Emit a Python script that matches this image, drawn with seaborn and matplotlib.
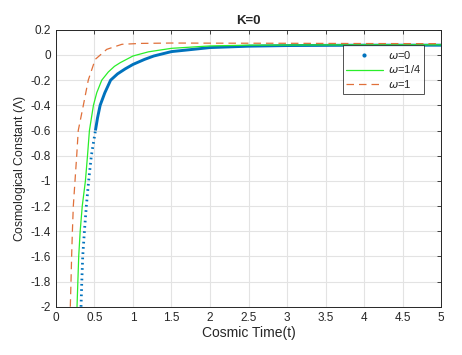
import matplotlib
matplotlib.use("Agg")
import matplotlib.pyplot as plt
import seaborn as sns
import pandas as pd
from matplotlib.lines import Line2D

# omega = 0
t0 = [0.326, 0.336, 0.348, 0.37, 0.395, 0.425, 0.46, 0.513, 0.54, 0.574, 0.635, 0.71,
      0.80, 0.9, 1.0, 1.15, 1.27, 1.5, 2.0, 2.5, 3.0, 4.0, 5.0]
lam0 = [-2.0, -1.8, -1.6, -1.4, -1.2, -1.0, -0.8, -0.6, -0.5, -0.4, -0.3, -0.2,
        -0.15, -0.11, -0.075, -0.035, -0.008, 0.027, 0.059, 0.07, 0.075, 0.078, 0.078]

# omega = 1/4
t1 = [0.274, 0.285, 0.296, 0.315, 0.342, 0.383, 0.41, 0.435, 0.487, 0.53, 0.595, 0.68,
      0.76, 0.835, 1.0, 1.2, 1.5, 2.0, 2.5, 3.5, 5.0]
lam1 = [-2.0, -1.8, -1.6, -1.4, -1.2, -1.0, -0.8, -0.6, -0.4, -0.3, -0.2, -0.135,
        -0.09, -0.061, -0.008, 0.025, 0.053, 0.072, 0.078, 0.08, 0.081]

# omega = 1
t2 = [0.187, 0.196, 0.204, 0.214, 0.226, 0.248, 0.27, 0.29, 0.356, 0.42, 0.51, 0.66,
      0.857, 1.1, 1.5, 2.0, 3.0, 4.0, 5.0]
lam2 = [-2.0, -1.8, -1.6, -1.4, -1.2, -1.0, -0.8, -0.6, -0.4, -0.2, -0.035, 0.045,
        0.085, 0.092, 0.095, 0.094, 0.093, 0.091, 0.09]

xticks = [0, 0.5, 1, 1.5, 2, 2.5, 3, 3.5, 4, 4.5, 5]
yticks = [0.2, 0, -0.2, -0.4, -0.6, -0.8, -1, -1.2, -1.4, -1.6, -1.8, -2]

sns.set_style("white")
plt.rcParams["font.family"] = ["Liberation Sans", "DejaVu Sans"]
plt.rcParams["axes.unicode_minus"] = False
plt.rcParams["mathtext.fontset"] = "dejavusans"

fig = plt.figure(figsize=(4.62, 3.55), dpi=100)
ax = fig.add_axes([0.121, 0.136, 0.834, 0.78])

blue = "#0072BD"
green = "#2AEE2A"
orange = "#E0703A"

d0 = pd.DataFrame({"t": t0, "lam": lam0})
steep = d0[d0["t"] <= 0.513]
flat = d0[d0["t"] >= 0.513]
sns.lineplot(data=steep, x="t", y="lam", ax=ax, color=blue, lw=2.0,
             linestyle=(0, (0.6, 1.3)), sort=False, estimator=None)
sns.lineplot(data=flat, x="t", y="lam", ax=ax, color=blue, lw=2.1,
             sort=False, estimator=None, solid_capstyle="butt")
sns.lineplot(x=t1, y=lam1, ax=ax, color=green, lw=0.9, sort=False, estimator=None)
sns.lineplot(x=t2, y=lam2, ax=ax, color=orange, lw=0.9, linestyle=(0, (6, 4)),
             sort=False, estimator=None)

ax.set_xlim(0, 5)
ax.set_ylim(-2, 0.2)
ax.set_xticks(xticks)
ax.set_yticks(yticks)
ax.set_xticklabels(["%g" % v for v in xticks])
ax.set_yticklabels(["%g" % v for v in yticks])
ax.tick_params(direction="in", length=3, width=0.6, labelsize=8.5, colors="#262626",
               top=True, right=True)
ax.grid(True, color="#e3e3e3", lw=0.8)
for s in ax.spines.values():
    s.set_color("#262626")
    s.set_linewidth(0.7)

ax.set_title("K=0", fontsize=9.5, fontweight="bold", pad=4)
ax.set_xlabel("Cosmic Time(t)", fontsize=10, color="#262626", labelpad=2)
ax.set_ylabel("Cosmological Constant ($\\Lambda$)", fontsize=8.8, color="#262626", labelpad=2)

handles = [
    Line2D([], [], color=blue, marker=".", ms=4, lw=0),
    Line2D([], [], color=green, lw=0.9),
    Line2D([], [], color=orange, lw=0.9, linestyle=(0, (6, 4))),
]
labels = ["$\\omega$=0", "$\\omega$=1/4", "$\\omega$=1"]
leg = ax.legend(handles, labels, loc="upper right", bbox_to_anchor=(0.971, 0.964),
                fontsize=8, frameon=True, fancybox=False, handlelength=3.3,
                borderpad=0.3, labelspacing=0.25, handletextpad=0.5)
leg.get_frame().set_edgecolor("#262626")
leg.get_frame().set_linewidth(0.7)

fig.savefig("out.png", dpi=100)
